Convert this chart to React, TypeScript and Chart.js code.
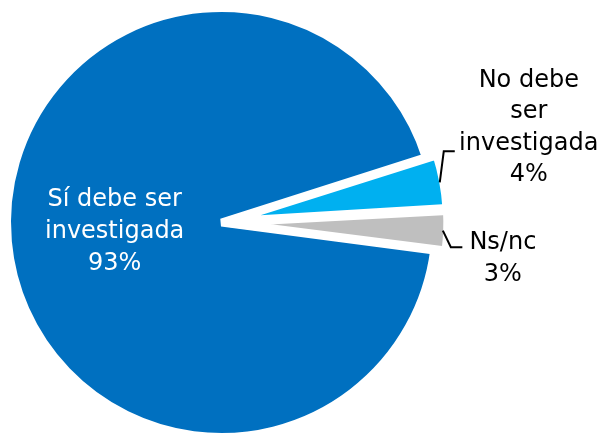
import React, { useEffect, useRef } from "react";
import { Chart, registerables } from "chart.js";

Chart.register(...registerables);

const categories = ["Sí debe ser investigada", "No debe ser investigada", "Ns/nc"];
const values = [93, 4, 3];
const labelLines = [
  ["Sí debe ser", "investigada", "93%"],
  ["No debe", "ser", "investigada", "4%"],
  ["Ns/nc", "3%"],
];
const colors = ["#0070C0", "#00B0F0", "#BFBFBF"];
const offsets = [0, 25, 25];

const FONT = '24px "DejaVu Sans", sans-serif';

const labelPlugin = {
  id: "pieLabels",
  afterDatasetsDraw(chart: any) {
    const ctx = chart.ctx as CanvasRenderingContext2D;
    const meta = chart.getDatasetMeta(0);
    ctx.save();
    ctx.font = FONT;
    ctx.textAlign = "center";
    ctx.textBaseline = "alphabetic";
    meta.data.forEach((arc: any, i: number) => {
      const p = arc.getProps(["x", "y", "startAngle", "endAngle", "outerRadius"], true);
      const mid = (p.startAngle + p.endAngle) / 2;
      const lines = labelLines[i];
      if (i === 0) {
        const r = p.outerRadius * 0.5;
        const ax = p.x + Math.cos(mid) * r;
        const ay = p.y + Math.sin(mid) * r;
        ctx.fillStyle = "#FFFFFF";
        const base = [-26, 6, 38];
        lines.forEach((t, k) => ctx.fillText(t, ax, ay + base[k]));
      } else {
        const r = p.outerRadius + 8.5;
        const sx = p.x + Math.cos(mid) * r;
        const sy = p.y + Math.sin(mid) * r;
        ctx.strokeStyle = "#000000";
        ctx.lineWidth = 2;
        ctx.lineJoin = "miter";
        ctx.beginPath();
        if (i === 1) {
          ctx.moveTo(sx - 1, sy + 0.5);
          ctx.lineTo(sx + 3, sy - 30.5);
          ctx.lineTo(sx + 14, sy - 30.5);
          ctx.stroke();
          ctx.fillStyle = "#000000";
          const base = [-95, -63.5, -32, -0.5];
          lines.forEach((t, k) => ctx.fillText(t, sx + 88, sy + base[k]));
        } else {
          ctx.moveTo(sx - 1.5, sy);
          ctx.lineTo(sx + 6.5, sy + 16.5);
          ctx.lineTo(sx + 18, sy + 16.5);
          ctx.stroke();
          ctx.fillStyle = "#000000";
          const base = [18.5, 50];
          lines.forEach((t, k) => ctx.fillText(t, sx + 58.5, sy + base[k]));
        }
      }
    });
    ctx.restore();
  },
};

export default function App() {
  const ref = useRef<HTMLCanvasElement | null>(null);
  useEffect(() => {
    document.body.style.margin = "0";
    const canvas = ref.current!;
    const chart = new Chart(canvas, {
      type: "pie",
      data: {
        labels: categories,
        datasets: [
          {
            data: values,
            backgroundColor: colors,
            borderColor: "#FFFFFF",
            borderWidth: 8,
            offset: offsets,
          },
        ],
      },
      options: {
        responsive: false,
        animation: false,
        devicePixelRatio: 1,
        rotation: 97.5,
        radius: 214.5,
        layout: { padding: { left: 0, top: 0, right: 160, bottom: 0 } },
        plugins: {
          legend: { display: false },
          tooltip: { enabled: false },
          title: { display: false },
        },
      } as any,
      plugins: [labelPlugin],
    });
    return () => chart.destroy();
  }, []);
  return (
    <div
      style={{
        position: "absolute",
        left: 0,
        top: 0,
        width: 603,
        height: 433,
        overflow: "hidden",
        background: "#FFFFFF",
      }}
    >
      <canvas
        ref={ref}
        width={643}
        height={485}
        style={{ position: "absolute", left: -20, top: -20, width: 643, height: 485 }}
      />
    </div>
  );
}
